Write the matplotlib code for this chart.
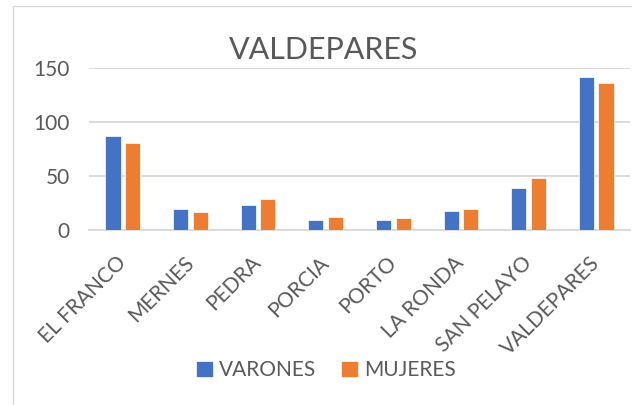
import numpy as np
import matplotlib
matplotlib.use("Agg")
import matplotlib.pyplot as plt
from matplotlib.patches import Rectangle

plt.rcParams["font.family"] = ["Lato", "DejaVu Sans"]

# datos
pueblos = ["EL FRANCO", "MERNES", "PEDRA", "PORCIA", "PORTO",
           "LA RONDA", "SAN PELAYO", "VALDEPARES"]
varones = [87, 20, 23, 10, 10, 18, 39, 142]
mujeres = [81, 17, 29, 12, 11, 20, 48, 136]

azul = "#4472C4"
naranja = "#ED7D31"
gris = "#595959"

fig = plt.figure(figsize=(6.32, 4.05), dpi=100)
ax = fig.add_axes([89 / 632, 174.7 / 405, 541 / 632, 162 / 405])

# marco del grafico
fig.patches.append(Rectangle((13 / 632, -0.05), 1.0, 0.05 + 399 / 405,
                             transform=fig.transFigure, fill=False,
                             edgecolor="#D9D9D9", linewidth=1.0))

x = np.arange(len(pueblos))
w = 0.225
ax.bar(x - 0.145, varones, w, color=azul, edgecolor="#ffffff", linewidth=0.5,
       label="VARONES", zorder=3)
ax.bar(x + 0.145, mujeres, w, color=naranja, edgecolor="#ffffff", linewidth=0.5,
       label="MUJERES", zorder=3)

ax.set_xlim(-0.5, len(pueblos) - 0.5)
ax.set_ylim(0, 150)
ax.set_yticks([0, 50, 100, 150])
ax.yaxis.grid(True, color="#D9D9D9", linewidth=1.3, zorder=0)
for s in ["top", "right", "left"]:
    ax.spines[s].set_visible(False)
ax.spines["bottom"].set_color("#D9D9D9")
ax.spines["bottom"].set_linewidth(1.3)
ax.tick_params(axis="both", length=0, labelsize=15, labelcolor=gris)
ax.tick_params(axis="y", pad=14)
ax.set_xticks(x)
ax.set_xticklabels(pueblos, rotation=45, ha="right", va="center",
                   rotation_mode="anchor")
ax.tick_params(axis="x", pad=21)

fig.text(324 / 632, 1 - 50 / 405, "VALDEPARES", ha="center", va="center",
         fontsize=22, color=gris)

fig.legend(loc="center", bbox_to_anchor=(326 / 632, 1 - 370 / 405),
           ncol=2, frameon=False, fontsize=15, labelcolor=gris,
           handlelength=0.8, handleheight=0.8, handletextpad=0.3,
           columnspacing=1.2)

fig.savefig("out.png", dpi=100)
